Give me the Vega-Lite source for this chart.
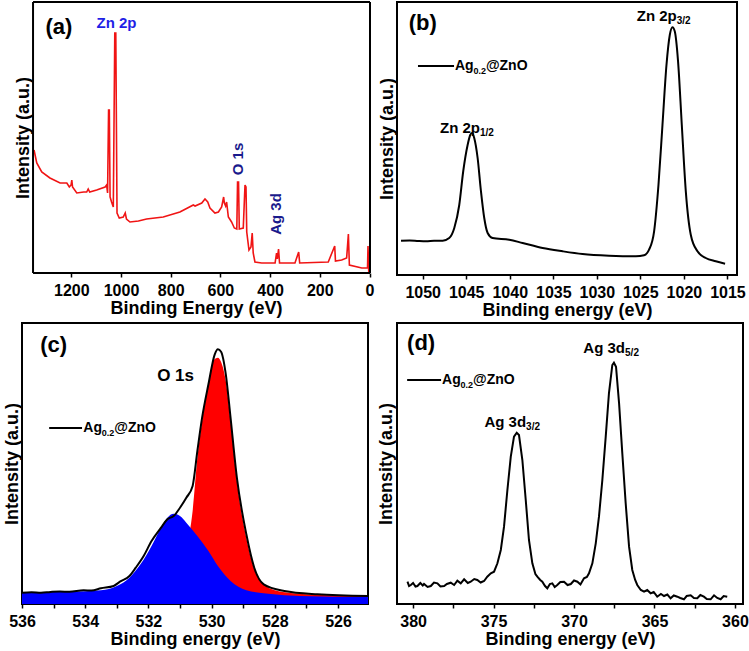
{
"$schema": "https://vega.github.io/schema/vega-lite/v6.json",
"padding": {"left": 2, "top": 1, "right": 0, "bottom": 0},
"background": "white",
"columns": 2,
"spacing": {"row": 2, "column": 2},
"config": {
  "font": "Liberation Sans",
  "view": {"stroke": "black", "strokeWidth": 2},
  "axis": {"labelFont": "Liberation Sans", "labelFontWeight": "bold", "labelFontSize": 16, "labelColor": "black", "titleFont": "Liberation Sans", "titleFontWeight": "bold", "titleFontSize": 18, "titleColor": "black", "domain": false, "grid": false, "tickColor": "black", "tickWidth": 1.5, "tickSize": 4, "labelFlush": false, "labelOverlap": false, "labelPadding": 3, "titlePadding": 2},
  "axisX": {"labelPadding": 5, "titlePadding": 1},
  "axisY": {"ticks": false, "labels": false},
  "text": {"font": "Liberation Sans", "fontWeight": "bold"}
},
"datasets": {
  "survey": [
    {"be":1350,"intensity":123},{"be":1339,"intensity":110},{"be":1319,"intensity":101},{"be":1286,"intensity":95},{"be":1245,"intensity":90},{"be":1218,"intensity":90},{"be":1208,"intensity":86},{"be":1201,"intensity":88},{"be":1198,"intensity":93},{"be":1195,"intensity":86},{"be":1178,"intensity":80},{"be":1150,"intensity":81},{"be":1138,"intensity":81},{"be":1132,"intensity":84},{"be":1126,"intensity":81},{"be":1098,"intensity":83},{"be":1064,"intensity":86},{"be":1058,"intensity":88},{"be":1054,"intensity":80},{"be":1050,"intensity":163},{"be":1047,"intensity":163},{"be":1044,"intensity":76},{"be":1038,"intensity":71},{"be":1031,"intensity":66},{"be":1025,"intensity":240},{"be":1021,"intensity":240},{"be":1016,"intensity":60},{"be":1007,"intensity":55},{"be":991,"intensity":56},{"be":983,"intensity":60},{"be":978,"intensity":54},{"be":964,"intensity":51},{"be":930,"intensity":52},{"be":897,"intensity":54},{"be":830,"intensity":56},{"be":763,"intensity":61},{"be":709,"intensity":68},{"be":702,"intensity":67},{"be":675,"intensity":70},{"be":662,"intensity":74},{"be":651,"intensity":71},{"be":642,"intensity":65},{"be":622,"intensity":60},{"be":608,"intensity":61},{"be":595,"intensity":66},{"be":587,"intensity":76},{"be":584,"intensity":70},{"be":579,"intensity":67},{"be":575,"intensity":71},{"be":568,"intensity":56},{"be":555,"intensity":51},{"be":544,"intensity":45},{"be":534,"intensity":44},{"be":531,"intensity":91},{"be":527,"intensity":91},{"be":524,"intensity":44},{"be":508,"intensity":45},{"be":501,"intensity":88},{"be":497,"intensity":86},{"be":494,"intensity":41},{"be":485,"intensity":23},{"be":477,"intensity":26},{"be":472,"intensity":40},{"be":468,"intensity":20},{"be":461,"intensity":11},{"be":434,"intensity":10},{"be":380,"intensity":10},{"be":374,"intensity":20},{"be":371,"intensity":14},{"be":366,"intensity":24},{"be":362,"intensity":10},{"be":300,"intensity":10},{"be":285,"intensity":21},{"be":281,"intensity":10},{"be":166,"intensity":11},{"be":140,"intensity":27},{"be":137,"intensity":12},{"be":112,"intensity":13},{"be":92,"intensity":15},{"be":85,"intensity":39},{"be":81,"intensity":8},{"be":31,"intensity":5},{"be":11,"intensity":5},{"be":8,"intensity":5},{"be":6,"intensity":27},{"be":3,"intensity":1}
  ],
  "zn2p": [
    {"be":1052.49,"intensity":34.3},{"be":1051.5,"intensity":34.6},{"be":1050.5,"intensity":34.0},{"be":1049.62,"intensity":33.7},{"be":1048.7,"intensity":34.2},{"be":1047.7,"intensity":34.3},{"be":1046.95,"intensity":37},{"be":1046.37,"intensity":47},{"be":1045.8,"intensity":70},{"be":1045.34,"intensity":104},{"be":1044.84,"intensity":130},{"be":1044.54,"intensity":140},{"be":1044.34,"intensity":142},{"be":1044.08,"intensity":137},{"be":1043.69,"intensity":117},{"be":1043.31,"intensity":84},{"be":1042.93,"intensity":57},{"be":1042.54,"intensity":42},{"be":1041.97,"intensity":37},{"be":1040.06,"intensity":35.3},{"be":1038.52,"intensity":32},{"be":1036.23,"intensity":27},{"be":1033.93,"intensity":23.7},{"be":1031.64,"intensity":21},{"be":1028.59,"intensity":19.3},{"be":1025.52,"intensity":18.7},{"be":1024.57,"intensity":19.7},{"be":1024.0,"intensity":25.3},{"be":1023.42,"intensity":43.7},{"be":1022.92,"intensity":90},{"be":1022.46,"intensity":150},{"be":1022.0,"intensity":210},{"be":1021.62,"intensity":240},{"be":1021.31,"intensity":247.7},{"be":1021.05,"intensity":243.7},{"be":1020.67,"intensity":213.7},{"be":1020.24,"intensity":150},{"be":1019.78,"intensity":83.7},{"be":1019.21,"intensity":40.3},{"be":1018.44,"intensity":23.7},{"be":1017.49,"intensity":17},{"be":1016.34,"intensity":13.7},{"be":1015.27,"intensity":11.3}
  ],
  "o1s_env": [
    {"be":536.0,"intensity":11.3},{"be":535.7,"intensity":11.8},{"be":535.4,"intensity":11.2},{"be":535.1,"intensity":12},{"be":534.8,"intensity":12.5},{"be":534.5,"intensity":12.2},{"be":534.05,"intensity":13.7},{"be":533.8,"intensity":13.5},{"be":533.5,"intensity":15.7},{"be":533.1,"intensity":18},{"be":532.9,"intensity":22.3},{"be":532.6,"intensity":28},{"be":532.4,"intensity":36.3},{"be":532.15,"intensity":48},{"be":531.9,"intensity":63},{"be":531.6,"intensity":76.3},{"be":531.4,"intensity":84.7},{"be":531.2,"intensity":88},{"be":531.0,"intensity":96.3},{"be":530.8,"intensity":106.3},{"be":530.6,"intensity":118},{"be":530.45,"intensity":153},{"be":530.3,"intensity":186.3},{"be":530.1,"intensity":219.7},{"be":529.9,"intensity":249.7},{"be":529.8,"intensity":254.7},{"be":529.7,"intensity":252.3},{"be":529.55,"intensity":229.7},{"be":529.4,"intensity":186.3},{"be":529.2,"intensity":126.3},{"be":528.9,"intensity":69.7},{"be":528.65,"intensity":36.3},{"be":528.35,"intensity":19.7},{"be":527.7,"intensity":13},{"be":526.65,"intensity":9.7},{"be":525.05,"intensity":8}
  ],
  "o1s_c1": [
    {"be":536.0,"intensity":10},{"be":533.0,"intensity":11},{"be":532.0,"intensity":12},{"be":531.5,"intensity":14},{"be":531.0,"intensity":30},{"be":530.8,"intensity":55},{"be":530.6,"intensity":93},{"be":530.45,"intensity":146},{"be":530.3,"intensity":183},{"be":530.1,"intensity":220},{"be":529.95,"intensity":243},{"be":529.8,"intensity":246.3},{"be":529.7,"intensity":242},{"be":529.55,"intensity":223},{"be":529.4,"intensity":183},{"be":529.2,"intensity":123},{"be":528.9,"intensity":66},{"be":528.65,"intensity":35},{"be":528.35,"intensity":20},{"be":528.0,"intensity":13.7},{"be":527.5,"intensity":11},{"be":526.5,"intensity":9},{"be":525.05,"intensity":8}
  ],
  "o1s_c2": [
    {"be":536.0,"intensity":11.3},{"be":535.0,"intensity":12},{"be":534.0,"intensity":12.8},{"be":533.5,"intensity":13.7},{"be":533.0,"intensity":18},{"be":532.6,"intensity":26.3},{"be":532.25,"intensity":39.7},{"be":531.9,"intensity":58},{"be":531.6,"intensity":76.3},{"be":531.4,"intensity":86.3},{"be":531.2,"intensity":90.3},{"be":531.0,"intensity":88},{"be":530.8,"intensity":81.3},{"be":530.45,"intensity":68},{"be":530.1,"intensity":53},{"be":529.8,"intensity":38},{"be":529.4,"intensity":23},{"be":528.9,"intensity":13.7},{"be":528.2,"intensity":10.3},{"be":527.2,"intensity":8},{"be":525.05,"intensity":7}
  ],
  "ag3d": [
    {"be":380.35,"intensity":22.3},{"be":380.25,"intensity":18},{"be":380.14,"intensity":19},{"be":380.0,"intensity":21},{"be":379.85,"intensity":17.5},{"be":379.73,"intensity":18},{"be":379.55,"intensity":21},{"be":379.4,"intensity":18.5},{"be":379.32,"intensity":20},{"be":379.1,"intensity":17},{"be":378.9,"intensity":18},{"be":378.7,"intensity":21.5},{"be":378.49,"intensity":20.7},{"be":378.3,"intensity":17.5},{"be":378.07,"intensity":18},{"be":377.9,"intensity":20},{"be":377.66,"intensity":21.3},{"be":377.45,"intensity":19},{"be":377.25,"intensity":23.3},{"be":377.04,"intensity":20.7},{"be":376.83,"intensity":24.7},{"be":376.6,"intensity":21},{"be":376.42,"intensity":22.3},{"be":376.2,"intensity":25},{"be":376.01,"intensity":24},{"be":375.8,"intensity":21.5},{"be":375.59,"intensity":23},{"be":375.39,"intensity":27.3},{"be":375.17,"intensity":30.7},{"be":374.97,"intensity":32.3},{"be":374.76,"intensity":40.7},{"be":374.55,"intensity":54},{"be":374.35,"intensity":77.3},{"be":374.14,"intensity":114},{"be":373.93,"intensity":147.3},{"be":373.73,"intensity":167.3},{"be":373.56,"intensity":171.3},{"be":373.42,"intensity":169},{"be":373.21,"intensity":144},{"be":373.0,"intensity":104},{"be":372.8,"intensity":64},{"be":372.59,"intensity":40.7},{"be":372.4,"intensity":30},{"be":372.28,"intensity":27.3},{"be":372.1,"intensity":24},{"be":371.97,"intensity":22.3},{"be":371.8,"intensity":18},{"be":371.66,"intensity":15.7},{"be":371.5,"intensity":20},{"be":371.35,"intensity":20.7},{"be":371.2,"intensity":17},{"be":371.04,"intensity":19},{"be":370.85,"intensity":22},{"be":370.62,"intensity":22.3},{"be":370.4,"intensity":19},{"be":370.2,"intensity":20},{"be":370.0,"intensity":23.5},{"be":369.79,"intensity":22.3},{"be":369.6,"intensity":19.5},{"be":369.38,"intensity":25.7},{"be":369.2,"intensity":27},{"be":369.07,"intensity":30.7},{"be":368.86,"intensity":40.7},{"be":368.65,"intensity":60.7},{"be":368.45,"intensity":87.3},{"be":368.24,"intensity":124},{"be":368.03,"intensity":167.3},{"be":367.83,"intensity":210.7},{"be":367.62,"intensity":239},{"be":367.52,"intensity":241.3},{"be":367.39,"intensity":237.3},{"be":367.2,"intensity":200.7},{"be":367.0,"intensity":150.7},{"be":366.79,"intensity":100.7},{"be":366.58,"intensity":57.3},{"be":366.38,"intensity":34},{"be":366.2,"intensity":24},{"be":366.07,"intensity":19},{"be":365.85,"intensity":14},{"be":365.65,"intensity":12.3},{"be":365.45,"intensity":14},{"be":365.24,"intensity":10.7},{"be":365.05,"intensity":12},{"be":364.83,"intensity":7.3},{"be":364.6,"intensity":10},{"be":364.41,"intensity":8},{"be":364.2,"intensity":9.5},{"be":364.0,"intensity":5.7},{"be":363.8,"intensity":8.5},{"be":363.58,"intensity":7.3},{"be":363.4,"intensity":6},{"be":363.17,"intensity":4.7},{"be":363.0,"intensity":8},{"be":362.75,"intensity":8.7},{"be":362.55,"intensity":6},{"be":362.34,"intensity":5.7},{"be":362.15,"intensity":9},{"be":361.93,"intensity":7.3},{"be":361.75,"intensity":5},{"be":361.51,"intensity":4.7},{"be":361.3,"intensity":8.7},{"be":361.1,"intensity":6},{"be":360.89,"intensity":4.7},{"be":360.7,"intensity":8},{"be":360.48,"intensity":7.3}
  ]
},
"concat": [
    {"width": 348, "height": 271,
     "view": {"stroke": null},
     "encoding": {
       "x": {"field": "be", "type": "quantitative", "scale": {"domain": [-2, 1398.4], "reverse": true, "nice": false, "zero": false}, "axis": {"values": [0,200,400,600,800,1000,1200], "format": "d"}, "title": "Binding Energy (eV)"},
       "y": {"field": "intensity", "type": "quantitative", "scale": {"domain": [0, 271], "nice": false}, "axis": {"titleX": 10}, "title": "Intensity (a.u.)"}
     },
     "layer": [
       {"data": {"name": "survey"}, "mark": {"type": "line", "color": "#f01414", "strokeWidth": 1.6}},
       {"data": {"values": [{"be": 1354, "intensity": 0, "intensity2": 271}, {"be": -2, "intensity": 0, "intensity2": 271}]}, "mark": {"type": "rule", "color": "black", "strokeWidth": 2}, "encoding": {"y2": {"field": "intensity2"}}},
       {"data": {"values": [{"be": 1354, "be2": -2, "intensity": 0}, {"be": 1354, "be2": -2, "intensity": 271}]}, "mark": {"type": "rule", "color": "black", "strokeWidth": 2}, "encoding": {"x2": {"field": "be2"}}},
       {"data": {"values": [{"be": 1250, "intensity": 246, "text": "(a)"}]}, "mark": {"type": "text", "fontSize": 22, "color": "black"}, "encoding": {"text": {"field": "text"}}},
       {"data": {"values": [{"be": 1018, "intensity": 250, "text": "Zn 2p"}]}, "mark": {"type": "text", "fontSize": 15, "color": "#1f1fe6"}, "encoding": {"text": {"field": "text"}}},
       {"data": {"values": [{"be": 529, "intensity": 114, "text": "O 1s"}, {"be": 375, "intensity": 59, "text": "Ag 3d"}]}, "mark": {"type": "text", "fontSize": 15, "color": "#1a1a8c", "angle": 270}, "encoding": {"text": {"field": "text"}}}
     ]
    },
    {"width": 340, "height": 273,
     "encoding": {
       "x": {"field": "be", "type": "quantitative", "scale": {"domain": [1013.9, 1052.95], "reverse": true, "nice": false, "zero": false}, "axis": {"values": [1015,1020,1025,1030,1035,1040,1045,1050], "format": "d"}, "title": "Binding energy (eV)"},
       "y": {"field": "intensity", "type": "quantitative", "scale": {"domain": [0, 273], "nice": false}, "axis": {"titlePadding": 1}, "title": "Intensity (a.u.)"}
     },
     "layer": [
       {"data": {"name": "zn2p"}, "mark": {"type": "line", "color": "black", "strokeWidth": 2, "interpolate": "monotone"}},
       {"data": {"values": [{"be": 1050, "intensity": 252, "text": "(b)"}]}, "mark": {"type": "text", "fontSize": 22, "color": "black"}, "encoding": {"text": {"field": "text"}}},
       {"data": {"values": [{"be": 1050.54, "be2": 1046.4, "intensity": 209}]}, "mark": {"type": "rule", "color": "black", "strokeWidth": 2}, "encoding": {"x2": {"field": "be2"}}},
       {"data": {"values": [{"be": 1046.3, "intensity": 209, "text": "Ag"}]}, "mark": {"type": "text", "fontSize": 14, "color": "black", "align": "left"}, "encoding": {"text": {"field": "text"}}},
       {"data": {"values": [{"be": 1046.3, "intensity": 209, "text": "0.2"}]}, "mark": {"type": "text", "fontSize": 9, "color": "black", "align": "left", "dx": 18.5, "dy": 5}, "encoding": {"text": {"field": "text"}}},
       {"data": {"values": [{"be": 1046.3, "intensity": 209, "text": "@ZnO"}]}, "mark": {"type": "text", "fontSize": 14, "color": "black", "align": "left", "dx": 31}, "encoding": {"text": {"field": "text"}}},
       {"data": {"values": [{"be": 1043.42, "intensity": 147, "text": "Zn 2p"}, {"be": 1020.82, "intensity": 259, "text": "Zn 2p"}]}, "mark": {"type": "text", "fontSize": 15, "color": "black", "align": "right"}, "encoding": {"text": {"field": "text"}}},
       {"data": {"values": [{"be": 1043.42, "intensity": 147, "text": "1/2"}, {"be": 1020.82, "intensity": 259, "text": "3/2"}]}, "mark": {"type": "text", "fontSize": 10, "color": "black", "align": "left", "dy": 5}, "encoding": {"text": {"field": "text"}}}
     ]
    },
    {"width": 346, "height": 281,
     "encoding": {
       "x": {"field": "be", "type": "quantitative", "scale": {"domain": [525.05, 536], "reverse": true, "nice": false, "zero": false}, "axis": {"values": [525,526,527,528,529,530,531,532,533,534,535,536], "format": "d", "labelExpr": "datum.value % 2 == 0 ? datum.label : ''"}, "title": "Binding energy (eV)"},
       "y": {"field": "intensity", "type": "quantitative", "scale": {"domain": [0, 281], "nice": false}, "axis": {"titlePadding": 1}, "title": "Intensity (a.u.)"}
     },
     "layer": [
       {"data": {"name": "o1s_c1"}, "mark": {"type": "area", "color": "#ff0000", "interpolate": "monotone", "opacity": 1}},
       {"data": {"name": "o1s_c2"}, "mark": {"type": "area", "color": "#0000ff", "interpolate": "monotone", "opacity": 1}},
       {"data": {"name": "o1s_env"}, "mark": {"type": "line", "color": "black", "strokeWidth": 2, "interpolate": "monotone"}},
       {"data": {"values": [{"be": 535.0, "intensity": 259, "text": "(c)"}]}, "mark": {"type": "text", "fontSize": 22, "color": "black"}, "encoding": {"text": {"field": "text"}}},
       {"data": {"values": [{"be": 531.14, "intensity": 228, "text": "O 1s"}]}, "mark": {"type": "text", "fontSize": 17, "color": "black"}, "encoding": {"text": {"field": "text"}}},
       {"data": {"values": [{"be": 535.14, "be2": 534.1, "intensity": 176}]}, "mark": {"type": "rule", "color": "black", "strokeWidth": 2}, "encoding": {"x2": {"field": "be2"}}},
       {"data": {"values": [{"be": 534.06, "intensity": 176, "text": "Ag"}]}, "mark": {"type": "text", "fontSize": 14, "color": "black", "align": "left"}, "encoding": {"text": {"field": "text"}}},
       {"data": {"values": [{"be": 534.06, "intensity": 176, "text": "0.2"}]}, "mark": {"type": "text", "fontSize": 9, "color": "black", "align": "left", "dx": 18.5, "dy": 5}, "encoding": {"text": {"field": "text"}}},
       {"data": {"values": [{"be": 534.06, "intensity": 176, "text": "@ZnO"}]}, "mark": {"type": "text", "fontSize": 14, "color": "black", "align": "left", "dx": 31}, "encoding": {"text": {"field": "text"}}}
     ]
    },
    {"width": 346, "height": 281,
     "encoding": {
       "x": {"field": "be", "type": "quantitative", "scale": {"domain": [359.5, 381], "reverse": true, "nice": false, "zero": false}, "axis": {"values": [360,362.5,365,367.5,370,372.5,375,377.5,380], "format": "d", "labelExpr": "datum.value % 5 == 0 ? datum.label : ''"}, "title": "Binding energy (eV)"},
       "y": {"field": "intensity", "type": "quantitative", "scale": {"domain": [0, 281], "nice": false}, "axis": {"titlePadding": 2}, "title": "Intensity (a.u.)"}
     },
     "layer": [
       {"data": {"name": "ag3d"}, "mark": {"type": "line", "color": "black", "strokeWidth": 2}},
       {"data": {"values": [{"be": 379.5, "intensity": 261, "text": "(d)"}]}, "mark": {"type": "text", "fontSize": 22, "color": "black"}, "encoding": {"text": {"field": "text"}}},
       {"data": {"values": [{"be": 380.37, "be2": 378.26, "intensity": 224}]}, "mark": {"type": "rule", "color": "black", "strokeWidth": 2}, "encoding": {"x2": {"field": "be2"}}},
       {"data": {"values": [{"be": 378.2, "intensity": 224, "text": "Ag"}]}, "mark": {"type": "text", "fontSize": 14, "color": "black", "align": "left"}, "encoding": {"text": {"field": "text"}}},
       {"data": {"values": [{"be": 378.2, "intensity": 224, "text": "0.2"}]}, "mark": {"type": "text", "fontSize": 9, "color": "black", "align": "left", "dx": 18.5, "dy": 5}, "encoding": {"text": {"field": "text"}}},
       {"data": {"values": [{"be": 378.2, "intensity": 224, "text": "@ZnO"}]}, "mark": {"type": "text", "fontSize": 14, "color": "black", "align": "left", "dx": 31}, "encoding": {"text": {"field": "text"}}},
       {"data": {"values": [{"be": 372.98, "intensity": 182, "text": "Ag 3d"}, {"be": 366.83, "intensity": 256, "text": "Ag 3d"}]}, "mark": {"type": "text", "fontSize": 15, "color": "black", "align": "right"}, "encoding": {"text": {"field": "text"}}},
       {"data": {"values": [{"be": 372.98, "intensity": 182, "text": "3/2"}, {"be": 366.83, "intensity": 256, "text": "5/2"}]}, "mark": {"type": "text", "fontSize": 10, "color": "black", "align": "left", "dy": 5}, "encoding": {"text": {"field": "text"}}}
     ]
    }
]
}
